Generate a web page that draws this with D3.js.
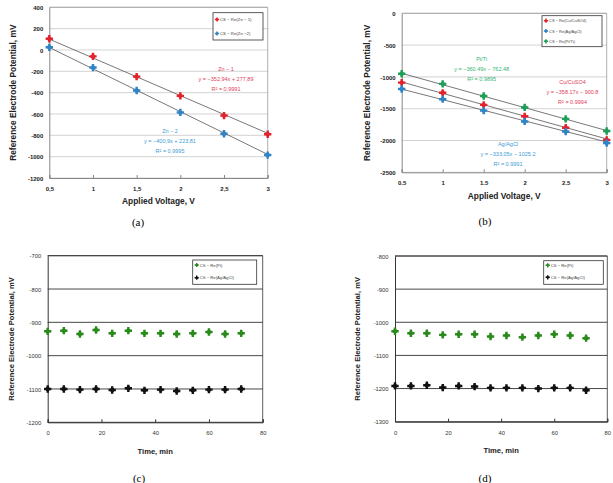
<!DOCTYPE html>
<html>
<head>
<meta charset="utf-8">
<script src="https://cdn.jsdelivr.net/npm/d3@7"></script>
<style>
  body { margin: 0; background: #fff; }
  svg { display: block; }
</style>
</head>
<body>
<div class="canvas"></div>
<script>
// ---- data ----
var voltage = [0.5, 1, 1.5, 2, 2.5, 3];
var voltTicksA = ["0,5", "1", "1,5", "2", "2,5", "3"];
var voltTicksB = ["0.5", "1", "1.5", "2", "2.5", "3"];

// (a) zinc reference electrodes
var zn1 = [105, -60, -250, -430, -615, -790];
var zn2 = [25, -165, -380, -585, -785, -985];
var fitA = [[-352.94, 277.89], [-400.9, 223.81]];
var eqA = [["Zn − 1", "y = −352,94x + 277,89", "R² = 0,9991"],
           ["Zn − 2", "y = −400,9x + 223,81", "R² = 0,9995"]];
var legendA = ["CS − Re(Zn − 1)", "CS − Re(Zn −2)"];
var yTicksA = [400, 200, 0, -200, -400, -600, -800, -1000, -1200];

// (b) Cu/CuSO4, Ag/AgCl, Pt/Ti
var cuCuso4 = [-1090, -1250, -1440, -1620, -1800, -1990];
var agAgcl = [-1190, -1350, -1530, -1700, -1860, -2040];
var ptTi = [-950, -1110, -1300, -1480, -1660, -1850];
var fitB = [[-358.17, -900.8], [-333.05, -1025.2], [-360.49, -762.48]];
var eqB = [["Cu/CuSO4", "y = −358.17x − 900.8", "R² = 0.9994"],
           ["Ag/AgCl", "y = −333.05x − 1025.2", "R² = 0.9991"],
           ["Pt/Ti", "y = −360.49x − 762.48", "R² = 0.9895"]];
var legendB = ["CS − Re(Cu/CuSO4)", "CS − Re(Ag/AgCl)", "CS − Re(Pt/Ti)"];
var yTicksB = [0, -500, -1000, -1500, -2000, -2500];

// (c), (d) potential vs time
var timeMin = [0, 6, 12, 18, 24, 30, 36, 42, 48, 54, 60, 66, 72];
var cPt = [-927, -925, -935, -923, -933, -925, -933, -933, -935, -933, -929, -935, -933];
var cAg = [-1100, -1100, -1102, -1100, -1103, -1098, -1104, -1102, -1106, -1104, -1102, -1102, -1100];
var dPt = [-1027, -1033, -1033, -1038, -1036, -1036, -1043, -1040, -1045, -1040, -1036, -1040, -1048];
var dAg = [-1192, -1192, -1190, -1197, -1192, -1194, -1198, -1198, -1198, -1200, -1198, -1198, -1205];
var legendCD = ["CS − Re(Pt)", "CS − Re(Ag/AgCl)"];
var timeTicks = [0, 20, 40, 60, 80];
var yTicksC = [-700, -800, -900, -1000, -1100, -1200];
var yTicksD = [-800, -900, -1000, -1100, -1200, -1300];

var captions = ["(a)", "(b)", "(c)", "(d)"];

// ---- drawing ----
var svg = d3.select("body div.canvas").append("svg")
	.attr("width", 613).attr("height", 483);

var RED = "#e3222b", BLUE = "#2f84c6", GREEN_B = "#1f9e57", GREEN = "#2a8a1c", BLACK = "#111";
var sans = "'Liberation Sans', Arial, sans-serif";

var crossBig = d3.symbol().type(d3.symbolCross).size(30);
var crossSmall = d3.symbol().type(d3.symbolCross).size(10);

// chunky excel-style marker: rounded plus
function addMarker(sel, color, big) {
	sel.append("circle").attr("r", big ? 2.2 : 1.3).attr("fill", color);
	sel.append("path").attr("d", big ? crossBig : crossSmall).attr("fill", color);
}

function panel(p) {
	var g = svg.append("g");
	var x = d3.scaleLinear().domain(p.xDomain).range([p.left, p.right]);
	var y = d3.scaleLinear().domain(p.yDomain).range([p.bottom, p.top]);

	// horizontal gridlines
	g.append("g")
		.selectAll("line").data(p.yTicks).enter().append("line")
		.attr("x1", p.left).attr("x2", p.right)
		.attr("y1", function(d) { return y(d); })
		.attr("y2", function(d) { return y(d); })
		.attr("stroke", p.gridColor).attr("stroke-width", p.gridWidth);

	// frame (top + right side)
	g.append("path")
		.attr("d", "M" + p.left + "," + p.top + "L" + p.right + "," + p.top +
			"L" + p.right + "," + p.bottom)
		.attr("fill", "none").attr("stroke", p.frameColor).attr("stroke-width", 0.8);

	var xAxis = d3.axisBottom(x).tickValues(p.xTicks).tickSize(-3).tickPadding(p.xPad)
		.tickFormat(function(d, i) { return p.xLabels ? p.xLabels[i] : d; });
	var gx = g.append("g").attr("transform", "translate(0," + p.bottom + ")").call(xAxis);
	var yAxis = d3.axisLeft(y).tickValues(p.yTicks).tickSize(0).tickPadding(p.yPad)
		.tickFormat(function(d) { return d; });
	var gy = g.append("g").attr("transform", "translate(" + p.left + ",0)").call(yAxis);

	[gx, gy].forEach(function(ax) {
		ax.select(".domain").attr("stroke", p.axisColor).attr("stroke-width", 1);
		ax.selectAll(".tick line").attr("stroke", p.axisColor);
		ax.selectAll("text")
			.style("font-family", sans)
			.style("font-size", p.tickFont + "px")
			.style("font-weight", p.tickWeight)
			.attr("fill", p.tickColor);
	});
	gy.selectAll("text").attr("dy", "0.35em");

	// trendlines
	if (p.fits) {
		p.fits.forEach(function(f) {
			g.append("line")
				.attr("x1", x(p.xDomain[0])).attr("y1", y(f[0] * p.xDomain[0] + f[1]))
				.attr("x2", x(p.xDomain[1])).attr("y2", y(f[0] * p.xDomain[1] + f[1]))
				.attr("stroke", "#555").attr("stroke-width", 0.8);
		});
	}

	// points
	p.series.forEach(function(s) {
		g.append("g").selectAll("g").data(s.values).enter().append("g")
			.attr("transform", function(d, i) { return "translate(" + x(p.xs[i]) + "," + y(d) + ")"; })
			.each(function() { addMarker(d3.select(this), s.color, true); });
	});

	// regression labels
	if (p.eqs) {
		p.eqs.forEach(function(e) {
			e.lines.forEach(function(t, i) {
				g.append("text")
					.attr("x", e.x).attr("y", e.y + i * 10 + 2)
					.attr("text-anchor", "middle")
					.style("font-family", sans).style("font-size", "5.5px")
					.attr("fill", e.color)
					.text(t);
			});
		});
	}

	// legend
	var L = p.legend;
	g.append("rect")
		.attr("x", L.x).attr("y", L.y).attr("width", L.w).attr("height", L.h)
		.attr("fill", "#fff").attr("stroke", "#333").attr("stroke-width", 0.8);
	p.series.forEach(function(s, i) {
		var cy = L.y + L.first + i * L.step;
		var m = g.append("g").attr("transform", "translate(" + (L.x + 4) + "," + cy + ")");
		addMarker(m, s.color, false);
		g.append("text")
			.attr("x", L.x + 7).attr("y", cy + 1.6)
			.style("font-family", sans).style("font-size", L.font + "px")
			.attr("fill", "#444")
			.text(s.name);
	});

	// axis titles
	g.append("text")
		.attr("x", (p.left + p.right) / 2).attr("y", p.xTitleY)
		.attr("text-anchor", "middle")
		.style("font-family", sans).style("font-size", p.titleFont + "px").style("font-weight", "bold")
		.attr("fill", "#222")
		.text(p.xTitle);
	g.append("text")
		.attr("transform", "translate(" + p.yTitleX + "," + ((p.top + p.bottom) / 2) + ") rotate(-90)")
		.attr("text-anchor", "middle")
		.style("font-family", sans).style("font-size", p.titleFont + "px").style("font-weight", "bold")
		.attr("fill", "#222")
		.text("Reference Electrode Potential, mV");

	// caption
	g.append("text")
		.attr("x", p.capX).attr("y", p.capY)
		.attr("text-anchor", "middle")
		.style("font-family", "'Liberation Serif', 'Times New Roman', serif").style("font-size", "11px")
		.attr("fill", "#000")
		.text(p.caption);
}

// (a)
panel({
	left: 49.3, right: 267.7, top: 7.3, bottom: 178,
	xDomain: [0.5, 3], yDomain: [-1200, 400],
	xTicks: voltage, xLabels: voltTicksA, yTicks: yTicksA, xs: voltage,
	gridColor: "#c8c8c8", gridWidth: 0.8, frameColor: "#999", axisColor: "#888",
	tickFont: 6, tickWeight: "bold", tickColor: "#222", xPad: 9, yPad: 6,
	fits: fitA,
	series: [{ name: legendA[0], values: zn1, color: RED },
	         { name: legendA[1], values: zn2, color: BLUE }],
	eqs: [{ lines: eqA[0], x: 226, y: 69, color: "#e0405a" },
	      { lines: eqA[1], x: 170, y: 131, color: "#3d9bd4" }],
	legend: { x: 213, y: 12.7, w: 50, h: 27.3, first: 6.8, step: 14, font: 4.3 },
	xTitle: "Applied Voltage, V", xTitleY: 204, yTitleX: 16, titleFont: 8.4,
	caption: captions[0], capX: 138, capY: 226
});

// (b)
panel({
	left: 401.7, right: 606.7, top: 13.3, bottom: 172.3,
	xDomain: [0.5, 3], yDomain: [-2500, 0],
	xTicks: voltage, xLabels: voltTicksB, yTicks: yTicksB, xs: voltage,
	gridColor: "#c8c8c8", gridWidth: 0.8, frameColor: "#999", axisColor: "#888",
	tickFont: 6, tickWeight: "bold", tickColor: "#222", xPad: 8, yPad: 6,
	fits: fitB,
	series: [{ name: legendB[0], values: cuCuso4, color: RED },
	         { name: legendB[1], values: agAgcl, color: BLUE },
	         { name: legendB[2], values: ptTi, color: GREEN_B }],
	eqs: [{ lines: eqB[0], x: 572.5, y: 82, color: "#e0405a" },
	      { lines: eqB[1], x: 508, y: 144, color: "#3d9bd4" },
	      { lines: eqB[2], x: 481.7, y: 59, color: "#34b574" }],
	legend: { x: 542, y: 15.7, w: 60, h: 31, first: 5, step: 10.3, font: 4 },
	xTitle: "Applied Voltage, V", xTitleY: 198.5, yTitleX: 369.5, titleFont: 8.4,
	caption: captions[1], capX: 485, capY: 225
});

// (c)
panel({
	left: 47.7, right: 262.7, top: 255.7, bottom: 422.3,
	xDomain: [0, 80], yDomain: [-1200, -700],
	xTicks: timeTicks, yTicks: yTicksC, xs: timeMin,
	gridColor: "#333", gridWidth: 0.9, frameColor: "#333", axisColor: "#333",
	tickFont: 5.8, tickWeight: "normal", tickColor: "#333", xPad: 9, yPad: 6.5,
	series: [{ name: legendCD[0], values: cPt, color: GREEN },
	         { name: legendCD[1], values: cAg, color: BLACK }],
	legend: { x: 192.7, y: 260, w: 64, h: 24.3, first: 5, step: 12.7, font: 4.2 },
	xTitle: "Time, min", xTitleY: 453.5, yTitleX: 13.5, titleFont: 7.6,
	caption: captions[2], capX: 139, capY: 482
});

// (d)
panel({
	left: 395, right: 607.3, top: 256, bottom: 421.7,
	xDomain: [0, 80], yDomain: [-1300, -800],
	xTicks: timeTicks, yTicks: yTicksD, xs: timeMin,
	gridColor: "#333", gridWidth: 0.9, frameColor: "#333", axisColor: "#333",
	tickFont: 5.8, tickWeight: "normal", tickColor: "#333", xPad: 9, yPad: 6.5,
	series: [{ name: legendCD[0], values: dPt, color: GREEN },
	         { name: legendCD[1], values: dAg, color: BLACK }],
	legend: { x: 543.7, y: 260.7, w: 59.6, h: 23.6, first: 4.6, step: 12, font: 4.2 },
	xTitle: "Time, min", xTitleY: 453, yTitleX: 359.5, titleFont: 7.6,
	caption: captions[3], capX: 485, capY: 482
});
</script>
</body>
</html>
